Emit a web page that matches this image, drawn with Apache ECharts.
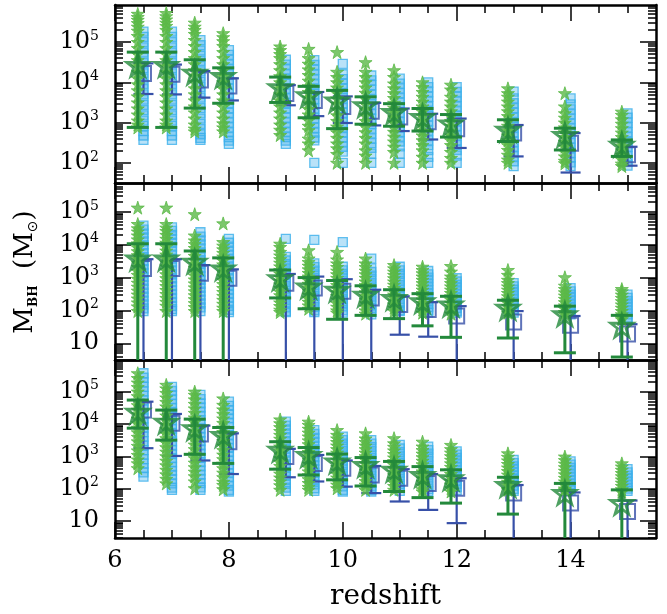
<!DOCTYPE html>
<html><head><meta charset="utf-8">
<script src="https://cdn.jsdelivr.net/npm/echarts@6/dist/echarts.min.js"></script>
<style>html,body{margin:0;padding:0;background:#fff}#c{width:667px;height:614px}</style>
</head><body><div id="c"></div>
<script>
// ---------- data (log10 of M_BH in solar masses) ----------
const redshift = [6.5, 7, 7.5, 8, 9, 9.5, 10, 10.5, 11, 11.5, 12, 13, 14, 15];
const xTicks = [6, 8, 10, 12, 14];
const xMinorTicks = [6.5, 7, 7.5, 8.5, 9, 9.5, 10.5, 11, 11.5, 12.5, 13, 13.5, 14.5, 15];
const yTicksTop = [2, 3, 4, 5];
const yTicksLower = [1, 2, 3, 4, 5];

// top panel
const topStars = [
 [5.70,5.62,5.55,5.47,5.38,5.28,5.15,5.0,4.85,4.7,4.55,4.4,4.25,4.1,3.95,3.8,3.65,3.5,3.35,3.2,3.05,2.95,2.88],
 [5.72,5.64,5.56,5.48,5.4,5.3,5.15,5.0,4.85,4.7,4.55,4.4,4.25,4.1,3.95,3.8,3.65,3.5,3.35,3.2,3.05,2.95,2.88],
 [5.48,5.38,5.3,5.2,5.05,4.9,4.75,4.6,4.45,4.3,4.15,4.0,3.85,3.7,3.55,3.4,3.25,3.1,2.95,2.85,2.78],
 [5.22,5.12,5.02,4.9,4.75,4.6,4.45,4.3,4.15,4.0,3.85,3.7,3.55,3.4,3.25,3.1,2.98,2.88,2.78],
 [4.89,4.8,4.7,4.6,4.45,4.3,4.15,4.0,3.85,3.7,3.55,3.4,3.25,3.1,2.95,2.82,2.69],
 [4.83,4.6,4.46,4.32,4.18,4.04,3.9,3.76,3.62,3.48,3.34,3.2,3.06,2.92,2.81,2.6,2.48,2.31],
 [4.75,4.26,4.13,4.0,3.87,3.74,3.6,3.46,3.32,3.18,3.04,2.9,2.76,2.62,2.48,2.36,2.22,2.0],
 [4.5,4.26,4.13,4.0,3.87,3.74,3.6,3.46,3.32,3.18,3.04,2.9,2.76,2.62,2.48,2.31,2.18,2.0],
 [4.3,4.13,3.97,3.85,3.73,3.61,3.49,3.37,3.25,3.13,3.01,2.89,2.77,2.65,2.53,2.4,2.27,2.0],
 [4.0,3.88,3.76,3.64,3.52,3.4,3.28,3.16,3.04,2.92,2.8,2.68,2.56,2.44,2.31,2.15,2.0],
 [3.94,3.82,3.64,3.52,3.4,3.28,3.16,3.04,2.92,2.8,2.68,2.56,2.44,2.27,2.12,2.0],
 [3.85,3.73,3.64,3.52,3.4,3.28,3.16,3.04,2.92,2.8,2.68,2.56,2.44,2.32,2.2,2.08,2.0],
 [3.73,3.4,3.23,3.12,3.0,2.88,2.76,2.64,2.52,2.4,2.28,2.16,2.05,1.99],
 [3.27,3.19,3.08,2.97,2.86,2.75,2.64,2.53,2.42,2.31,2.2,2.09,1.98,1.92]
];
const topSquares = [
 [5.26,5.13,5.0,4.87,4.74,4.61,4.48,4.35,4.22,4.09,3.96,3.83,3.7,3.57,3.44,3.31,3.18,3.05,2.92,2.79,2.68,2.57],
 [5.26,5.13,5.0,4.87,4.74,4.61,4.48,4.35,4.22,4.09,3.96,3.83,3.7,3.57,3.44,3.31,3.18,3.05,2.92,2.79,2.68,2.57],
 [5.05,4.92,4.79,4.66,4.53,4.4,4.27,4.14,4.01,3.88,3.75,3.62,3.49,3.36,3.23,3.1,2.97,2.84,2.71,2.62,2.57],
 [4.8,4.68,4.56,4.44,4.32,4.2,4.08,3.96,3.84,3.72,3.6,3.48,3.36,3.24,3.12,3.0,2.88,2.76,2.64,2.55,2.47],
 [4.56,4.44,4.32,4.2,4.08,3.96,3.84,3.72,3.6,3.48,3.36,3.24,3.12,3.0,2.88,2.76,2.64,2.55,2.47],
 [4.55,4.43,4.31,4.19,4.07,3.95,3.83,3.71,3.59,3.47,3.35,3.23,3.11,2.99,2.87,2.75,2.63,2.56,2.0],
 [4.46,4.2,4.08,3.96,3.84,3.72,3.6,3.48,3.36,3.24,3.12,3.0,2.88,2.76,2.64,2.52,2.4,2.28,2.0],
 [4.17,4.05,3.93,3.81,3.69,3.57,3.45,3.33,3.21,3.09,2.97,2.85,2.73,2.61,2.49,2.37,2.23,2.0],
 [4.09,3.97,3.85,3.73,3.61,3.49,3.37,3.25,3.13,3.01,2.89,2.77,2.65,2.53,2.41,2.23,2.0],
 [4.0,3.88,3.76,3.64,3.52,3.4,3.28,3.16,3.04,2.92,2.8,2.68,2.56,2.44,2.32,2.15,2.0],
 [3.88,3.76,3.64,3.52,3.4,3.28,3.16,3.04,2.92,2.8,2.68,2.56,2.44,2.32,2.18,2.0],
 [3.77,3.6,3.48,3.36,3.24,3.12,3.0,2.88,2.76,2.64,2.52,2.4,2.28,2.16,2.04,1.92],
 [3.6,3.45,3.33,3.21,3.09,2.97,2.85,2.73,2.61,2.49,2.37,2.25,2.13,2.01,1.92],
 [3.23,3.12,3.0,2.88,2.76,2.64,2.52,2.4,2.28,2.16,2.04,1.93]
];
const topStarMed = [4.43,4.43,4.24,4.16,3.88,3.68,3.55,3.43,3.26,3.14,2.98,2.82,2.69,2.45];
const topStarHi  = [4.75,4.75,4.56,4.36,4.13,3.9,3.8,3.64,3.47,3.35,3.2,3.07,2.86,2.57];
const topStarLo  = [2.88,2.88,3.36,3.48,3.5,3.12,2.85,2.96,2.91,2.79,2.64,2.53,2.32,2.16];
const topSqMed = [4.22,4.2,4.06,3.91,3.72,3.55,3.4,3.28,3.14,3.02,2.85,2.74,2.49,2.2];
const topSqHi  = [4.47,4.44,4.28,4.1,3.93,3.76,3.65,3.49,3.35,3.22,3.1,2.94,2.74,2.4];
const topSqLo  = [3.71,3.7,3.62,3.55,3.43,3.16,2.99,2.93,2.79,2.58,2.37,2.16,1.76,1.93];

// middle panel
const midStars = [
 [5.13,4.63,4.5,4.4,4.28,4.16,4.04,3.92,3.8,3.68,3.56,3.44,3.32,3.2,3.08,2.96,2.84,2.72,2.6,2.48,2.36,2.24,2.12,1.98],
 [5.13,4.63,4.52,4.42,4.3,4.18,4.06,3.94,3.82,3.7,3.58,3.46,3.34,3.22,3.1,2.98,2.86,2.74,2.62,2.5,2.38,2.26,2.14,1.98],
 [4.93,4.28,4.13,4.02,3.9,3.78,3.66,3.54,3.42,3.3,3.18,3.06,2.94,2.82,2.7,2.58,2.46,2.34,2.22,2.1,1.98],
 [4.65,4.08,3.97,3.86,3.75,3.64,3.52,3.4,3.28,3.16,3.04,2.92,2.8,2.68,2.56,2.44,2.32,2.2,2.08,1.98],
 [4.03,3.93,3.78,3.67,3.56,3.45,3.34,3.23,3.12,3.01,2.9,2.79,2.68,2.57,2.46,2.35,2.24,2.13,2.02,1.95],
 [3.83,3.58,3.47,3.36,3.25,3.14,3.03,2.92,2.81,2.7,2.59,2.48,2.37,2.26,2.15,2.05],
 [3.78,3.55,3.43,3.32,3.21,3.1,2.99,2.88,2.77,2.66,2.55,2.44,2.33,2.22,2.11,2.0,1.93],
 [3.58,3.43,3.32,3.21,3.1,2.99,2.88,2.77,2.66,2.55,2.44,2.33,2.22,2.11,2.0,1.9],
 [3.38,3.28,3.18,3.08,2.98,2.88,2.78,2.68,2.58,2.48,2.38,2.28,2.18,2.08,1.98],
 [3.33,3.23,3.13,3.03,2.93,2.83,2.73,2.63,2.53,2.43,2.33,2.23,2.13,2.03,1.93],
 [3.35,3.18,3.03,2.93,2.83,2.73,2.63,2.53,2.43,2.33,2.23,2.13,2.03,1.9],
 [3.23,3.08,2.93,2.83,2.73,2.63,2.53,2.43,2.33,2.23,2.13,2.03,1.93],
 [3.01,2.75,2.65,2.55,2.45,2.35,2.25,2.15,2.05,1.95,1.88],
 [2.65,2.58,2.48,2.38,2.28,2.18,2.08,1.98,1.88,1.78,1.73]
];
const midSquares = [
 [4.58,4.46,4.34,4.22,4.1,3.98,3.86,3.74,3.62,3.5,3.38,3.26,3.14,3.02,2.9,2.78,2.66,2.54,2.42,2.3,2.18,2.06,1.98],
 [4.53,4.42,4.3,4.18,4.06,3.94,3.82,3.7,3.58,3.46,3.34,3.22,3.1,2.98,2.86,2.74,2.62,2.5,2.38,2.26,2.14,2.04,1.98],
 [4.38,4.25,4.13,4.01,3.89,3.77,3.65,3.53,3.41,3.29,3.17,3.05,2.93,2.81,2.69,2.57,2.45,2.33,2.21,2.09,1.98],
 [4.18,4.06,3.94,3.82,3.7,3.58,3.46,3.34,3.22,3.1,2.98,2.86,2.74,2.62,2.5,2.38,2.26,2.14,2.02,1.95],
 [4.18,3.63,3.52,3.41,3.3,3.19,3.08,2.97,2.86,2.75,2.64,2.53,2.42,2.31,2.2,2.09,1.98,1.95],
 [4.15,3.43,3.32,3.21,3.1,2.99,2.88,2.77,2.66,2.55,2.44,2.33,2.22,2.11,2.0,1.95],
 [4.08,3.33,3.22,3.11,3.0,2.89,2.78,2.67,2.56,2.45,2.34,2.23,2.12,2.01,1.93],
 [3.58,3.28,3.17,3.06,2.95,2.84,2.73,2.62,2.51,2.4,2.29,2.18,2.07,1.96,1.88],
 [3.33,3.22,3.11,3.0,2.89,2.78,2.67,2.56,2.45,2.34,2.23,2.12,2.01,1.98],
 [3.2,3.1,3.0,2.9,2.8,2.7,2.6,2.5,2.4,2.3,2.2,2.1,2.0,1.93],
 [2.98,2.88,2.78,2.68,2.58,2.48,2.38,2.28,2.18,2.08,1.98,1.93],
 [2.83,2.73,2.63,2.53,2.43,2.33,2.23,2.13,2.03,1.93],
 [2.68,2.58,2.48,2.38,2.28,2.18,2.08,1.98,1.88],
 [2.48,2.38,2.28,2.18,2.08,1.98,1.88,1.78,1.73]
];
const midStarMed = [3.58,3.58,3.48,3.28,2.98,2.73,2.63,2.48,2.38,2.28,2.18,2.08,1.88,1.53];
const midStarHi  = [4.03,4.03,3.81,3.6,3.23,3.0,2.91,2.75,2.63,2.51,2.43,2.31,2.13,1.85];
const midStarLo  = [0,0,0,0,2.38,2.05,1.73,1.85,1.75,1.53,1.18,1.16,0.71,0.58];
const midSqMed = [3.28,3.28,3.13,2.98,2.83,2.68,2.58,2.38,2.18,2.03,1.83,1.65,1.55,1.28];
const midSqHi  = [3.56,3.56,3.38,3.25,3.11,3.03,2.95,2.63,2.43,2.25,2.13,1.98,1.83,1.58];
const midSqLo  = [0,0,0,0,0,0,0,0,1.26,1.2,0,0,0,0];

// bottom panel
const botStars = [
 [5.57,5.42,5.28,5.14,5.0,4.86,4.72,4.58,4.44,4.3,4.16,4.02,3.88,3.74,3.6,3.46,3.32,3.18,3.04,2.9,2.78,2.63],
 [5.21,5.1,4.96,4.82,4.68,4.54,4.4,4.26,4.12,3.98,3.84,3.7,3.56,3.42,3.28,3.14,3.0,2.86,2.72,2.58,2.44,2.3,2.16],
 [5.0,4.9,4.76,4.62,4.48,4.34,4.2,4.06,3.92,3.78,3.64,3.5,3.36,3.22,3.08,2.94,2.8,2.66,2.52,2.38,2.22,2.01],
 [4.79,4.59,4.45,4.31,4.17,4.03,3.89,3.75,3.61,3.47,3.33,3.19,3.05,2.91,2.77,2.63,2.49,2.35,2.21,2.11,1.98],
 [4.14,4.02,3.9,3.78,3.66,3.54,3.42,3.3,3.18,3.06,2.94,2.82,2.7,2.58,2.46,2.34,2.22,2.1,1.96],
 [4.07,3.97,3.85,3.73,3.61,3.49,3.37,3.25,3.13,3.01,2.89,2.77,2.65,2.53,2.41,2.29,2.17,2.05,1.96],
 [3.81,3.66,3.55,3.44,3.33,3.22,3.11,3.0,2.89,2.78,2.67,2.56,2.45,2.34,2.23,2.12,2.01],
 [3.71,3.55,3.44,3.33,3.22,3.11,3.0,2.89,2.78,2.67,2.56,2.45,2.34,2.23,2.12,1.96],
 [3.56,3.4,3.29,3.18,3.07,2.96,2.85,2.74,2.63,2.52,2.41,2.3,2.19,2.08,1.96],
 [3.45,3.3,3.19,3.08,2.97,2.86,2.75,2.64,2.53,2.42,2.31,2.2,2.09,1.98,1.91],
 [3.35,3.22,3.11,3.0,2.89,2.78,2.67,2.56,2.45,2.34,2.23,2.12,2.01,1.91],
 [3.09,2.98,2.87,2.76,2.65,2.54,2.43,2.32,2.21,2.1,1.99,1.96],
 [2.99,2.88,2.77,2.66,2.55,2.44,2.33,2.22,2.11,2.0,1.96],
 [2.78,2.68,2.58,2.48,2.38,2.28,2.18,2.08,1.98,1.9]
];
const botSquares = [
 [5.57,5.43,5.29,5.15,5.01,4.87,4.73,4.59,4.45,4.31,4.17,4.03,3.89,3.75,3.61,3.47,3.33,3.19,3.05,2.91,2.77,2.63,2.5,2.37],
 [5.15,5.02,4.89,4.76,4.63,4.5,4.37,4.24,4.11,3.98,3.85,3.72,3.59,3.46,3.33,3.2,3.07,2.94,2.81,2.68,2.55,2.42,2.29,2.16,2.03,1.96],
 [4.9,4.77,4.64,4.51,4.38,4.25,4.12,3.99,3.86,3.73,3.6,3.47,3.34,3.21,3.08,2.95,2.82,2.69,2.56,2.43,2.3,2.17,2.04,1.96],
 [4.69,4.56,4.43,4.3,4.17,4.04,3.91,3.78,3.65,3.52,3.39,3.26,3.13,3.0,2.87,2.74,2.61,2.48,2.35,2.22,2.09,1.96,1.91],
 [4.07,3.95,3.83,3.71,3.59,3.47,3.35,3.23,3.11,2.99,2.87,2.75,2.63,2.51,2.39,2.27,2.15,2.03,1.93],
 [3.81,3.69,3.57,3.45,3.33,3.21,3.09,2.97,2.85,2.73,2.61,2.49,2.37,2.25,2.13,2.01,1.93],
 [3.61,3.5,3.39,3.28,3.17,3.06,2.95,2.84,2.73,2.62,2.51,2.4,2.29,2.18,2.07,1.96,1.91],
 [3.5,3.39,3.28,3.17,3.06,2.95,2.84,2.73,2.62,2.51,2.4,2.29,2.18,2.07,1.96,1.91],
 [3.35,3.24,3.13,3.02,2.91,2.8,2.69,2.58,2.47,2.36,2.25,2.14,2.03,1.93],
 [3.3,3.19,3.08,2.97,2.86,2.75,2.64,2.53,2.42,2.31,2.2,2.09,1.98,1.91],
 [3.15,3.05,2.95,2.85,2.75,2.65,2.55,2.45,2.35,2.25,2.15,2.05,1.95],
 [2.89,2.79,2.69,2.59,2.49,2.39,2.29,2.19,2.09,1.99,1.93],
 [2.84,2.74,2.64,2.54,2.44,2.34,2.24,2.14,2.04,1.94],
 [2.6,2.5,2.4,2.3,2.2,2.1,2.0,1.93]
];
const botStarMed = [4.38,4.07,3.87,3.66,3.2,3.04,2.84,2.73,2.58,2.42,2.32,2.11,1.86,1.55];
const botStarHi  = [4.74,4.43,4.15,3.89,3.45,3.27,3.07,2.96,2.84,2.68,2.58,2.35,2.16,1.96];
const botStarLo  = [3.87,3.5,3.06,2.78,2.6,2.42,2.27,2.08,1.91,1.72,1.55,1.21,0,0];
const botSqMed = [4.43,4.02,3.69,3.45,2.99,2.78,2.63,2.42,2.32,2.16,2.01,1.86,1.55,1.29];
const botSqHi  = [4.69,4.31,3.95,3.71,3.23,3.04,2.87,2.7,2.6,2.45,2.32,2.11,1.88,1.63];
const botSqLo  = [3.25,3.01,2.87,2.45,2.35,2.22,2.06,1.86,1.6,1.34,0.93,0,0,0];

// ---------- styling ----------
const FONT = 'DejaVu Serif';
const C_STAR = '#5bb947', C_STAR_D = '#23893b', C_SQ = '#3cb0eb', C_SQ_D = '#3750a8';
const STAR_PATH = 'path://M50,0 L61.8,35.1 L98.9,35.1 L69,56.8 L80.3,91.9 L50,70.2 L19.7,91.9 L31,56.8 L1.1,35.1 L38.2,35.1 Z';
const STAR_DX = -0.1;

const panels = [
  {stars: topStars, sq: topSquares, sMed: topStarMed, sHi: topStarHi, sLo: topStarLo, qMed: topSqMed, qHi: topSqHi, qLo: topSqLo, yMin: 1.5, yMax: 5.92, yTicks: yTicksTop, top: 5, height: 178},
  {stars: midStars, sq: midSquares, sMed: midStarMed, sHi: midStarHi, sLo: midStarLo, qMed: midSqMed, qHi: midSqHi, qLo: midSqLo, yMin: 0.49, yMax: 5.88, yTicks: yTicksLower, top: 183, height: 177},
  {stars: botStars, sq: botSquares, sMed: botStarMed, sHi: botStarHi, sLo: botStarLo, qMed: botSqMed, qHi: botSqHi, qLo: botSqLo, yMin: 0.47, yMax: 5.98, yTicks: yTicksLower, top: 360, height: 178}
];

function yMinorTicks(lo, hi) {
  const out = [];
  for (let n = Math.floor(lo); n <= Math.ceil(hi); n++)
    for (let k = 2; k <= 9; k++) { const v = n + Math.log10(k); if (v > lo && v < hi) out.push(v); }
  return out;
}

function errRender(capHalf, lw, color) {
  return function (params, api) {
    const x = api.value(0), lo = api.value(1), hi = api.value(2);
    const a = api.coord([x, hi]), b = api.coord([x, lo]);
    const style = {stroke: color, lineWidth: lw, fill: null};
    return {type: 'group', children: [
      {type: 'line', shape: {x1: a[0], y1: a[1], x2: b[0], y2: b[1]}, style: style},
      {type: 'line', shape: {x1: a[0] - capHalf, y1: a[1], x2: a[0] + capHalf, y2: a[1]}, style: style},
      {type: 'line', shape: {x1: b[0] - capHalf, y1: b[1], x2: b[0] + capHalf, y2: b[1]}, style: style}
    ]};
  };
}

const grids = [], xAxes = [], yAxes = [], series = [];
const tickStyle = {color: '#000', width: 1.5};
const lineStyle = {color: '#000', width: 2.5};

panels.forEach((p, g) => {
  grids.push({left: 115, right: 11, top: p.top, height: p.height});
  const xb = {type: 'value', gridIndex: g, min: 6, max: 15.5, splitLine: {show: false}};
  xAxes.push(Object.assign({}, xb, {position: 'bottom',
    axisLine: {show: true, onZero: false, lineStyle: lineStyle},
    axisTick: {show: true, inside: true, length: 16, customValues: xTicks, lineStyle: tickStyle},
    axisLabel: g === 2 ? {show: true, customValues: xTicks, margin: 11, fontFamily: FONT, fontSize: 24, color: '#000'} : {show: false}}));
  xAxes.push(Object.assign({}, xb, {position: 'bottom', axisLine: {show: false},
    axisTick: {show: true, inside: true, length: 8, customValues: xMinorTicks, lineStyle: tickStyle}, axisLabel: {show: false}}));
  xAxes.push(Object.assign({}, xb, {position: 'top',
    axisLine: {show: true, onZero: false, lineStyle: lineStyle},
    axisTick: {show: true, inside: true, length: 16, customValues: xTicks, lineStyle: tickStyle}, axisLabel: {show: false}}));
  xAxes.push(Object.assign({}, xb, {position: 'top', axisLine: {show: false},
    axisTick: {show: true, inside: true, length: 8, customValues: xMinorTicks, lineStyle: tickStyle}, axisLabel: {show: false}}));

  const yb = {type: 'value', gridIndex: g, min: p.yMin, max: p.yMax, splitLine: {show: false}};
  const minor = yMinorTicks(p.yMin, p.yMax);
  yAxes.push(Object.assign({}, yb, {position: 'left',
    axisLine: {show: true, onZero: false, lineStyle: lineStyle},
    axisTick: {show: true, inside: true, length: 16, customValues: p.yTicks, lineStyle: tickStyle},
    axisLabel: {show: true, customValues: p.yTicks, margin: 16,
      formatter: v => Math.round(v) === 1 ? '{b|10}' : '{b|10}{s|' + Math.round(v) + '}',
      rich: {b: {fontFamily: FONT, fontSize: 24, lineHeight: 26, color: '#000'},
             s: {fontFamily: FONT, fontSize: 14, lineHeight: 14, verticalAlign: 'top', color: '#000'}}}}));
  yAxes.push(Object.assign({}, yb, {position: 'left', axisLine: {show: false},
    axisTick: {show: true, inside: true, length: 8, customValues: minor, lineStyle: tickStyle}, axisLabel: {show: false}}));
  yAxes.push(Object.assign({}, yb, {position: 'right',
    axisLine: {show: true, onZero: false, lineStyle: lineStyle},
    axisTick: {show: true, inside: true, length: 16, customValues: p.yTicks, lineStyle: tickStyle}, axisLabel: {show: false}}));
  yAxes.push(Object.assign({}, yb, {position: 'right', axisLine: {show: false},
    axisTick: {show: true, inside: true, length: 8, customValues: minor, lineStyle: tickStyle}, axisLabel: {show: false}}));

  const xi = 4 * g, yi = 4 * g;
  const common = {xAxisIndex: xi, yAxisIndex: yi, silent: true, animation: false};
  series.push(Object.assign({}, common, {type: 'scatter', z: 1, symbol: 'rect', symbolSize: 9,
    itemStyle: {color: 'rgba(60,176,235,0.45)', borderColor: C_SQ, borderWidth: 1.3},
    data: p.sq.flatMap((arr, i) => arr.map(v => [redshift[i], v]))}));
  series.push(Object.assign({}, common, {type: 'custom', z: 2, clip: true,
    renderItem: errRender(10, 2.2, C_SQ_D), encode: {x: 0, y: [1, 2]},
    data: redshift.map((z, i) => [z, p.qLo[i], p.qHi[i]])}));
  series.push(Object.assign({}, common, {type: 'scatter', z: 3, symbol: 'rect', symbolSize: 15,
    itemStyle: {color: 'rgba(0,0,0,0)', borderColor: C_SQ_D, borderWidth: 2},
    data: redshift.map((z, i) => [z, p.qMed[i]])}));
  series.push(Object.assign({}, common, {type: 'scatter', z: 4, symbol: STAR_PATH, symbolSize: 13,
    itemStyle: {color: C_STAR, borderColor: C_STAR, borderWidth: 1},
    data: p.stars.flatMap((arr, i) => arr.map(v => [redshift[i] + STAR_DX, v]))}));
  series.push(Object.assign({}, common, {type: 'custom', z: 5, clip: true,
    renderItem: errRender(11, 3, C_STAR_D), encode: {x: 0, y: [1, 2]},
    data: redshift.map((z, i) => [z + STAR_DX, p.sLo[i], p.sHi[i]])}));
  series.push(Object.assign({}, common, {type: 'scatter', z: 6, symbol: STAR_PATH, symbolSize: 22,
    itemStyle: {color: 'rgba(0,0,0,0)', borderColor: C_STAR_D, borderWidth: 2.8},
    data: redshift.map((z, i) => [z + STAR_DX, p.sMed[i]])}));
});

const chart = echarts.init(document.getElementById('c'), null, {renderer: 'canvas'});
chart.setOption({
  animation: false,
  backgroundColor: '#fff',
  grid: grids, xAxis: xAxes, yAxis: yAxes, series: series,
  graphic: [
    {type: 'text', x: 385.5, y: 597, style: {text: 'redshift', font: '28px "DejaVu Serif"', fill: '#000',
      align: 'center', verticalAlign: 'middle', textAlign: 'center', textVerticalAlign: 'middle'}},
    {type: 'text', x: 25, y: 272, rotation: Math.PI / 2,
      style: {text: '{m|M}{sub|BH}{m|  (M}{sub2|⊙}{m|)}', fill: '#000',
        align: 'center', verticalAlign: 'middle', textAlign: 'center', textVerticalAlign: 'middle',
        rich: {m: {fontFamily: FONT, fontSize: 26, lineHeight: 30},
               sub: {fontFamily: FONT, fontSize: 12, fontWeight: 'bold', lineHeight: 12, verticalAlign: 'bottom'},
               sub2: {fontFamily: 'DejaVu Sans', fontSize: 14, lineHeight: 14, verticalAlign: 'bottom'}}}}
  ]
});
</script></body></html>
